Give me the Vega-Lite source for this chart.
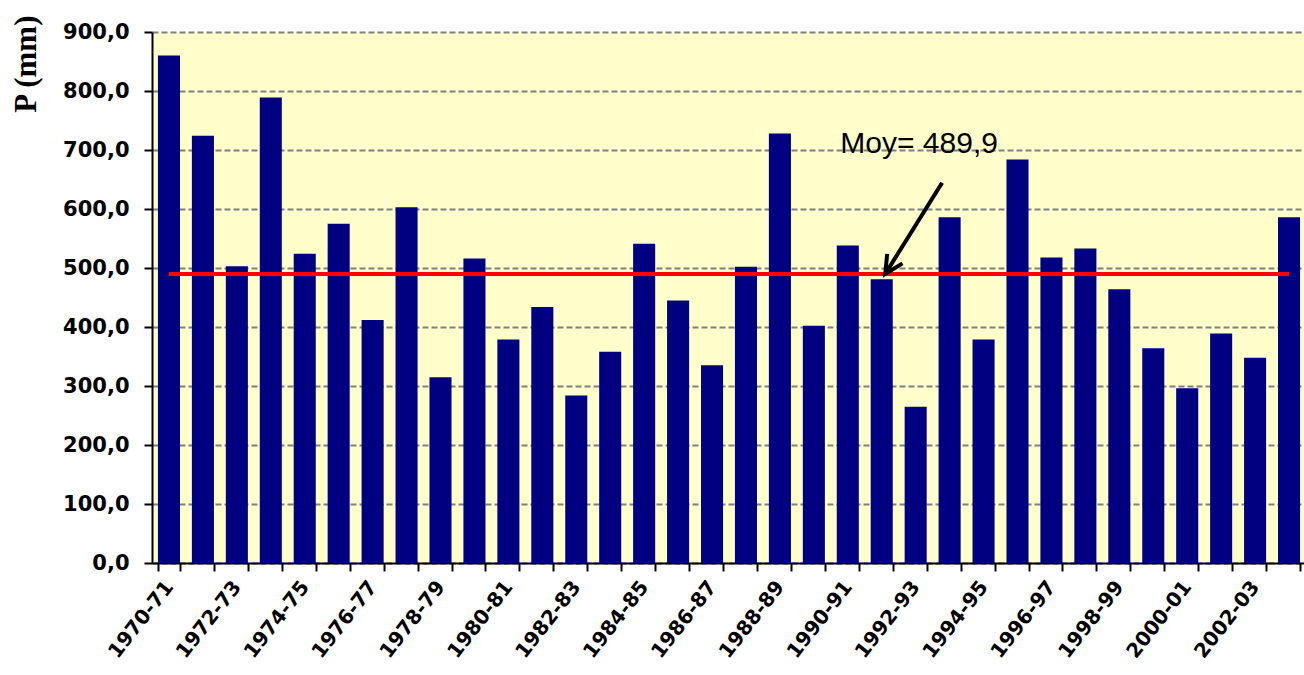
{
  "$schema": "https://vega.github.io/schema/vega-lite/v6.json",
  "width": 1154,
  "height": 531,
  "autosize": {"type": "none"},
  "padding": {"left": 152, "top": 32, "right": 0, "bottom": 112},
  "background": "white",
  "config": {
    "view": {"fill": "#FFFFCC", "stroke": null}
  },
  "datasets": {
    "rain": [
      {"year": "1970-71", "p": 860},
      {"year": "1971-72", "p": 724},
      {"year": "1972-73", "p": 503},
      {"year": "1973-74", "p": 789},
      {"year": "1974-75", "p": 524},
      {"year": "1975-76", "p": 575},
      {"year": "1976-77", "p": 412},
      {"year": "1977-78", "p": 603},
      {"year": "1978-79", "p": 315},
      {"year": "1979-80", "p": 516},
      {"year": "1980-81", "p": 379},
      {"year": "1981-82", "p": 434},
      {"year": "1982-83", "p": 284},
      {"year": "1983-84", "p": 358},
      {"year": "1984-85", "p": 541},
      {"year": "1985-86", "p": 445},
      {"year": "1986-87", "p": 335},
      {"year": "1987-88", "p": 502},
      {"year": "1988-89", "p": 728},
      {"year": "1989-90", "p": 402},
      {"year": "1990-91", "p": 538},
      {"year": "1991-92", "p": 481},
      {"year": "1992-93", "p": 265},
      {"year": "1993-94", "p": 586},
      {"year": "1994-95", "p": 379},
      {"year": "1995-96", "p": 684},
      {"year": "1996-97", "p": 518},
      {"year": "1997-98", "p": 533},
      {"year": "1998-99", "p": 464},
      {"year": "1999-00", "p": 364},
      {"year": "2000-01", "p": 296},
      {"year": "2001-02", "p": 389},
      {"year": "2002-03", "p": 348},
      {"year": "2003-04", "p": 586}
    ],
    "mean": [
      {"year": "1970-71", "p": 489.9},
      {"year": "2003-04", "p": 489.9}
    ],
    "arrow": [
      {"year": "1993-94", "p": 644.6, "to": "1991-92", "p2": 490}
    ],
    "tip": [
      {"year": "1991-92", "p": 490}
    ],
    "note": [
      {"year": "1990-91", "p": 695.4, "label": "Moy= 489,9"}
    ]
  },
  "encoding": {
    "x": {
      "field": "year",
      "type": "nominal",
      "scale": {"paddingInner": 0.35, "paddingOuter": 0.175},
      "axis": {
        "title": null,
        "tickBand": "extent",
        "domainColor": "black",
        "domainWidth": 2,
        "tickColor": "black",
        "tickWidth": 2,
        "tickSize": 8,
        "labelAngle": -52,
        "labelPadding": 12,
        "labelFont": "DejaVu Sans",
        "labelFontWeight": "bold",
        "labelFontSize": 20,
        "labelColor": "black",
        "labelExpr": "indexof('02468', substring(datum.value, 3, 4)) >= 0 ? datum.value : ''"
      }
    },
    "y": {
      "field": "p",
      "type": "quantitative",
      "scale": {"domain": [0, 900], "nice": false},
      "axis": {
        "title": "P (mm)",
        "titleFont": "Liberation Serif",
        "titleFontWeight": "bold",
        "titleFontSize": 31,
        "titleColor": "black",
        "titleAngle": -90,
        "titleX": -117,
        "titleY": -17,
        "titleAlign": "right",
        "titleBaseline": "alphabetic",
        "values": [0, 100, 200, 300, 400, 500, 600, 700, 800, 900],
        "labelExpr": "replace(format(datum.value, '.1f'), '.', ',')",
        "labelFont": "DejaVu Sans",
        "labelFontWeight": "bold",
        "labelFontSize": 21,
        "labelColor": "black",
        "labelPadding": 15,
        "domainColor": "black",
        "domainWidth": 2,
        "tickColor": "black",
        "tickWidth": 2,
        "tickSize": 8,
        "grid": true,
        "gridColor": "#808080",
        "gridWidth": 2,
        "gridDash": [6, 3]
      }
    }
  },
  "layer": [
    {
      "data": {"name": "rain"},
      "mark": {"type": "bar", "color": "#000080"}
    },
    {
      "data": {"name": "mean"},
      "mark": {"type": "line", "color": "#FF0000", "strokeWidth": 4}
    },
    {
      "data": {"name": "arrow"},
      "mark": {"type": "rule", "color": "black", "strokeWidth": 4},
      "encoding": {
        "x": {"field": "year", "type": "nominal", "bandPosition": 0.16},
        "x2": {"field": "to", "bandPosition": 0.66},
        "y2": {"field": "p2"}
      }
    },
    {
      "data": {"name": "tip"},
      "mark": {"type": "point", "shape": "M-0.5,1L0,0L0.5,1", "filled": false, "stroke": "black", "strokeWidth": 4, "size": 1300, "angle": 212, "opacity": 1},
      "encoding": {
        "x": {"field": "year", "type": "nominal", "bandPosition": 0.66}
      }
    },
    {
      "data": {"name": "note"},
      "mark": {"type": "text", "font": "Liberation Sans", "fontSize": 30, "align": "left", "baseline": "alphabetic", "color": "black"},
      "encoding": {
        "x": {"field": "year", "type": "nominal", "bandPosition": 0.16},
        "text": {"field": "label"}
      }
    }
  ]
}
